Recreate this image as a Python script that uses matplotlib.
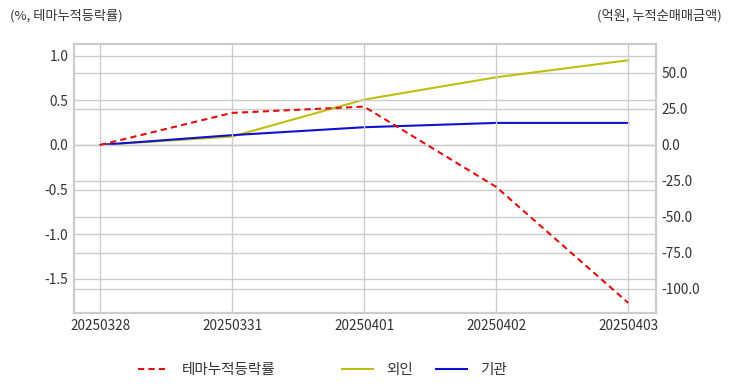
import matplotlib
matplotlib.use("Agg")
import matplotlib.pyplot as plt
from matplotlib.ticker import FormatStrFormatter

plt.rcParams['font.family'] = ['Noto Sans CJK KR', 'DejaVu Sans']

# 데이터
dates = ["20250328", "20250331", "20250401", "20250402", "20250403"]
theme_ret = [0.0, 0.36, 0.43, -0.47, -1.77]      # 테마누적등락률 (%)
foreign = [0.0, 5.8, 31.5, 47.0, 58.8]           # 외인 (억원)
inst = [0.0, 6.8, 12.3, 15.3, 15.3]              # 기관 (억원)

left_ticks = [1.0, 0.5, 0.0, -0.5, -1.0, -1.5]
right_ticks = [50.0, 25.0, 0.0, -25.0, -50.0, -75.0, -100.0]

grid_c = "#cccccc"
text_c = "#333333"

fig = plt.figure(figsize=(7.32, 3.92), dpi=100)
ax = fig.add_axes([74 / 732, 1 - 313 / 392, (656 - 74) / 732, (313 - 44) / 392])
ax2 = ax.twinx()

x = list(range(len(dates)))
l1, = ax.plot(x, theme_ret, color="#e01010", linestyle=(0, (3, 2)), linewidth=1.5, label="테마누적등락률")
l2, = ax2.plot(x, foreign, color="#bfbf10", linewidth=1.5, label="외인")
l3, = ax2.plot(x, inst, color="#1010d0", linewidth=1.5, label="기관")

ax.set_xlim(-0.197, 4.21)
ax.set_ylim(-1.883, 1.132)
ax2.set_ylim(-116.7, 70.1)

ax.set_xticks(x)
ax.set_xticklabels(dates)
ax.set_yticks(left_ticks)
ax2.set_yticks(right_ticks)
ax.yaxis.set_major_formatter(FormatStrFormatter("%.1f"))
ax2.yaxis.set_major_formatter(FormatStrFormatter("%.1f"))

ax.grid(True, color=grid_c, linewidth=1)
ax2.grid(True, axis="y", color=grid_c, linewidth=1)
ax.set_axisbelow(True)
ax2.set_axisbelow(True)
ax.set_zorder(ax2.get_zorder() + 1)
ax.patch.set_visible(False)

for a in (ax, ax2):
    for s in a.spines.values():
        s.set_color(grid_c)
        s.set_linewidth(1.5)
    a.tick_params(length=0, labelsize=9.8, colors=text_c, pad=4)

fig.text(10 / 732, 1 - 16 / 392, "(%, 테마누적등락률)", fontsize=9.5, color=text_c, va="center", ha="left")
fig.text(722 / 732, 1 - 16 / 392, "(억원, 누적순매매금액)", fontsize=9.5, color=text_c, va="center", ha="right")

# 범례 (간격이 고르지 않아 항목별로 배치)
legend_pos = [138, 342, 436]
for h, px in zip([l1, l2, l3], legend_pos):
    fig.legend(handles=[h], loc="center left", bbox_to_anchor=(px / 732, 1 - 370 / 392),
               frameon=False, fontsize=10.5, labelcolor=text_c,
               handlelength=2.1, handletextpad=0.9, borderpad=0, borderaxespad=0)

fig.savefig("out.png", dpi=100)
